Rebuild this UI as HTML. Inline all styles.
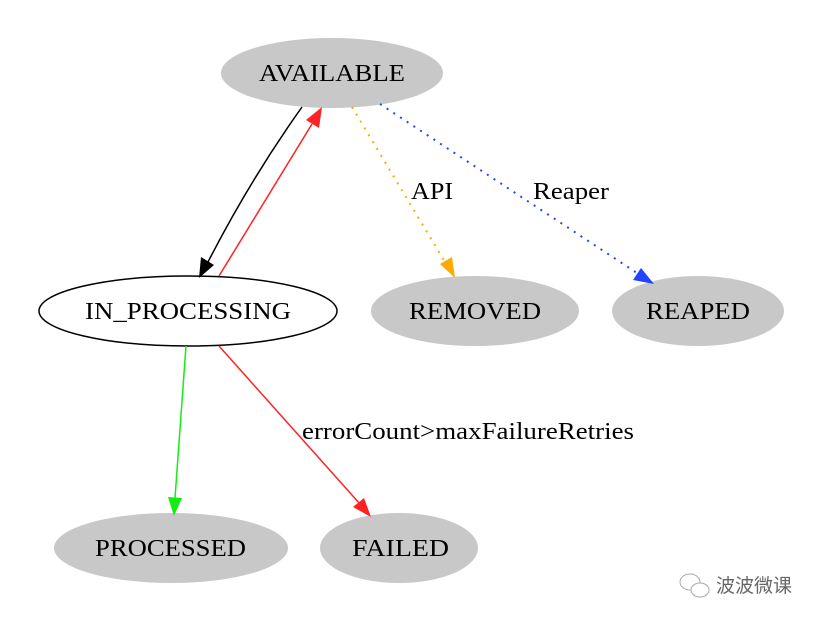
<!DOCTYPE html>
<html><head><style>body{margin:0;background:#fff}svg{display:block}text{font-family:"Liberation Serif",serif;font-size:24px}</style></head>
<body>
<svg width="822" height="622" viewBox="0 0 822 622" xmlns="http://www.w3.org/2000/svg">
<ellipse cx="332" cy="73" rx="111" ry="35" fill="#c8c8c8"/>
<ellipse cx="188" cy="311" rx="149" ry="35" fill="#fff" stroke="#000" stroke-width="1.5"/>
<ellipse cx="475" cy="311" rx="104" ry="35" fill="#c8c8c8"/>
<ellipse cx="698" cy="311" rx="86" ry="35" fill="#c8c8c8"/>
<ellipse cx="171" cy="548" rx="117" ry="35" fill="#c8c8c8"/>
<ellipse cx="399" cy="548" rx="79" ry="35" fill="#c8c8c8"/>
<g lengthAdjust="spacingAndGlyphs">
<text x="259" y="81" textLength="146" lengthAdjust="spacingAndGlyphs">AVAILABLE</text>
<text x="85" y="319" textLength="206" lengthAdjust="spacingAndGlyphs">IN_PROCESSING</text>
<text x="409" y="319" textLength="132" lengthAdjust="spacingAndGlyphs">REMOVED</text>
<text x="646" y="319" textLength="104" lengthAdjust="spacingAndGlyphs">REAPED</text>
<text x="95" y="556" textLength="151" lengthAdjust="spacingAndGlyphs">PROCESSED</text>
<text x="352" y="556" textLength="97" lengthAdjust="spacingAndGlyphs">FAILED</text>
<text x="411" y="199" textLength="42" lengthAdjust="spacingAndGlyphs">API</text>
<text x="533" y="199" textLength="76" lengthAdjust="spacingAndGlyphs">Reaper</text>
<text x="302" y="439" textLength="332" lengthAdjust="spacingAndGlyphs">errorCount&gt;maxFailureRetries</text>
</g>
<path d="M302 107 Q250 180 208 262" stroke="#000" stroke-width="1.5" fill="none"/>
<polygon points="199,278 201,257 214,265" fill="#000"/>
<path d="M219 276 L312 124" stroke="#f22" stroke-width="1.5" fill="none"/>
<polygon points="322,107 319,128 306,120" fill="#f22"/>
<path d="M352 107 L445 262" stroke="#fa0" stroke-width="2" stroke-dasharray="2,6" fill="none"/>
<polygon points="455,278 440,264 452,257" fill="#fa0"/>
<path d="M380 104 L640 275" stroke="#2244ff" stroke-width="2" stroke-dasharray="2,6" fill="none"/>
<polygon points="654,284 633,280 641,268" fill="#2244ff"/>
<path d="M186 346 L175 498" stroke="#1e1" stroke-width="1.5" fill="none"/>
<polygon points="174,516 168,497 182,498" fill="#1e1"/>
<path d="M219 346 L360 504" stroke="#f22" stroke-width="1.5" fill="none"/>
<polygon points="371,517 353,507 364,498" fill="#f22"/>
<g stroke="#aaa" fill="#fff" stroke-width="1"><ellipse cx="690" cy="582" rx="10" ry="8"/><ellipse cx="700" cy="590" rx="9" ry="7"/></g>
<text x="716" y="592" style="font-family:'Liberation Sans','Noto Sans CJK SC',sans-serif;font-size:19px" fill="#666">波波微课</text>
</svg>
</body></html>
